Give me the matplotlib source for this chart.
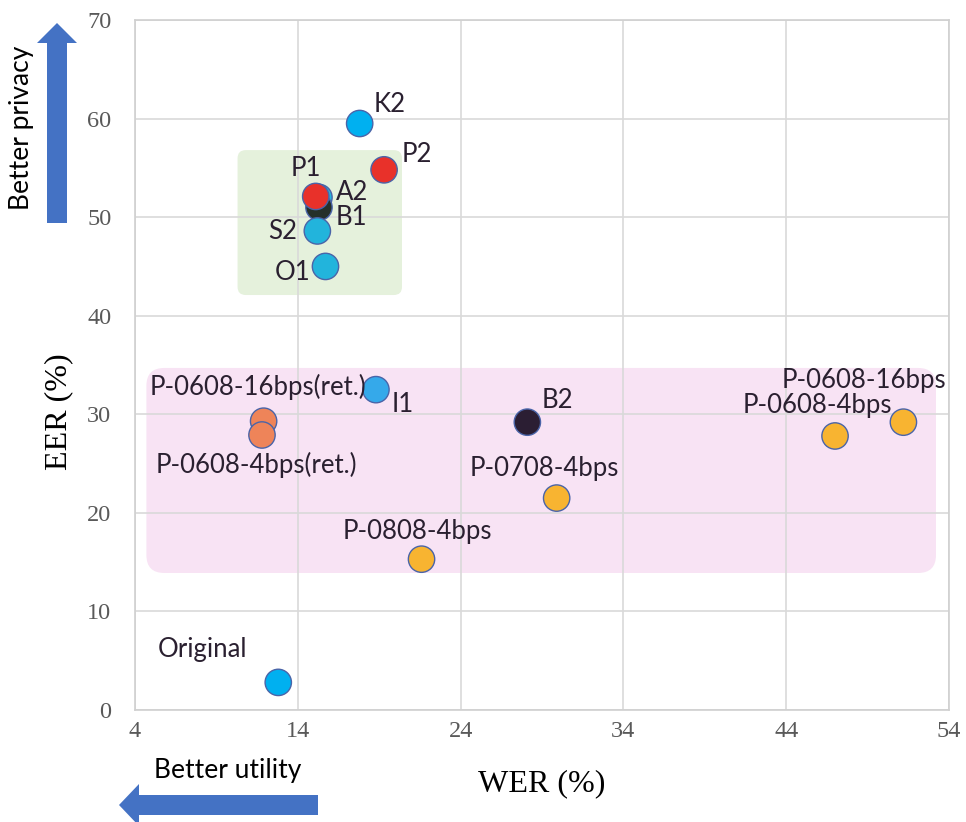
import matplotlib
matplotlib.use("Agg")
import matplotlib.pyplot as plt
from matplotlib.patches import FancyBboxPatch, Polygon

# Systems: WER (%) vs EER (%)
names = ["Original", "K2", "P2", "A2", "B1", "S2", "O1", "P1", "I1",
         "P-0608-16bps(ret.)", "P-0608-4bps(ret.)", "B2", "P-0708-4bps",
         "P-0808-4bps", "P-0608-4bps", "P-0608-16bps"]
wer = [12.8, 17.8, 19.3, 15.3, 15.3, 15.2, 15.7, 15.1, 18.8,
       11.9, 11.8, 28.1, 29.9, 21.6, 47.0, 51.2]
eer = [2.8, 59.5, 54.8, 52.0, 51.0, 48.6, 45.0, 52.1, 32.5,
       29.3, 27.9, 29.2, 21.5, 15.3, 27.8, 29.2]
colors = ["#00B0F0", "#00B0F0", "#E8312A", "#22B4DC", "#25302A", "#22B4DC",
          "#22B4DC", "#E8312A", "#35A9EA", "#EE8459", "#EE8459", "#2B1E33",
          "#F8B431", "#F8B431", "#F8B431", "#F8B431"]
# label offsets (pixels) and alignment
offsets = [(-76, 33, "center"), (14, 19, "left"), (18, 15, "left"), (17, 5, "left"),
           (17, -10, "left"), (-20, -1, "right"), (-15, -6, "right"), (-10, 28, "center"),
           (16, -15, "left"), (103, 34, "right"), (-6, -30, "center"), (14, 22, "left"),
           (-12, 30, "center"), (-4, 28, "center"), (-18, 30, "center"), (-39, 42, "center")]

x_ticks = [4, 14, 24, 34, 44, 54]
y_ticks = [0, 10, 20, 30, 40, 50, 60, 70]

# shaded groups: (x0, x1, y0, y1)
green_box = (10.3, 20.4, 42.1, 56.8)
pink_box = (4.7, 53.2, 13.9, 34.7)

W, H = 966, 822
L, R, T, B = 135, 949, 20, 710
fig = plt.figure(figsize=(W / 100, H / 100), dpi=100)
ax = fig.add_axes([L / W, 1 - B / H, (R - L) / W, (B - T) / H])
ax.set_xlim(4, 54)
ax.set_ylim(0, 70)
ax.set_xticks(x_ticks)
ax.set_yticks(y_ticks)
ax.set_axisbelow(True)
ax.grid(True, color="#D9D9D9", linewidth=1.2)
for s in ax.spines.values():
    s.set_color("#D0D0D0")
    s.set_linewidth(1.2)
ax.tick_params(length=0, labelsize=17.5, labelcolor="#595959")
ax.tick_params(axis="x", pad=8)
ax.tick_params(axis="y", pad=17)
for lab in ax.get_xticklabels() + ax.get_yticklabels():
    lab.set_family("Liberation Serif")

asp = ((R - L) / 50) / ((B - T) / 70)
for (x0, x1, y0, y1), fc, r in [(green_box, "#E5F1DC", 0.5), (pink_box, "#F8E3F4", 1.1)]:
    ax.add_patch(FancyBboxPatch((x0, y0), x1 - x0, y1 - y0,
                                boxstyle=f"round,pad=0,rounding_size={r}",
                                mutation_aspect=asp, facecolor=fc, edgecolor="none",
                                zorder=0.3))

ax.scatter(wer, eer, s=360, c=colors, edgecolors="#4A64A8", linewidths=1.0, zorder=3)

for n, x, y, (dx, dy, ha) in zip(names, wer, eer, offsets):
    ax.annotate(n, (x, y), xytext=(dx, dy), textcoords="offset pixels",
                ha=ha, va="center", fontsize=18.5, family="Lato", color="#2A2030",
                zorder=4)


def fx(p):
    return p / W


def fy(p):
    return 1 - p / H


ax.set_xlabel("WER (%)", family="Liberation Serif", fontsize=23)
ax.set_ylabel("EER (%)", family="Liberation Serif", fontsize=23)
ax.xaxis.set_label_coords(0.5, fy(784) * 0 + (B - 784) / (B - T), transform=ax.transAxes)
ax.xaxis.label.set_va("center")
ax.yaxis.set_label_coords((59 - L) / (R - L), (B - 412) / (B - T), transform=ax.transAxes)
ax.yaxis.label.set_va("center")
ax.yaxis.label.set_ha("center")

blue = "#4472C4"
# upward arrow
up = [(47, 223), (67, 223), (67, 43), (77, 43), (57, 23), (37, 43), (47, 43)]
fig.add_artist(Polygon([(fx(a), fy(b)) for a, b in up], closed=True,
                       facecolor=blue, edgecolor="none", transform=fig.transFigure))
# leftward arrow
left = [(318, 795), (318, 815), (139, 815), (139, 826), (119, 805), (139, 784), (139, 795)]
fig.add_artist(Polygon([(fx(a), fy(b)) for a, b in left], closed=True,
                       facecolor=blue, edgecolor="none", transform=fig.transFigure))

fig.text(fx(22), fy(128), "Better privacy", rotation=90, ha="center", va="center",
         fontsize=19, family="Lato", color="black")
fig.text(fx(228), fy(770), "Better utility", ha="center", va="center",
         fontsize=19, family="Lato", color="black")

fig.savefig("out.png", dpi=100)
